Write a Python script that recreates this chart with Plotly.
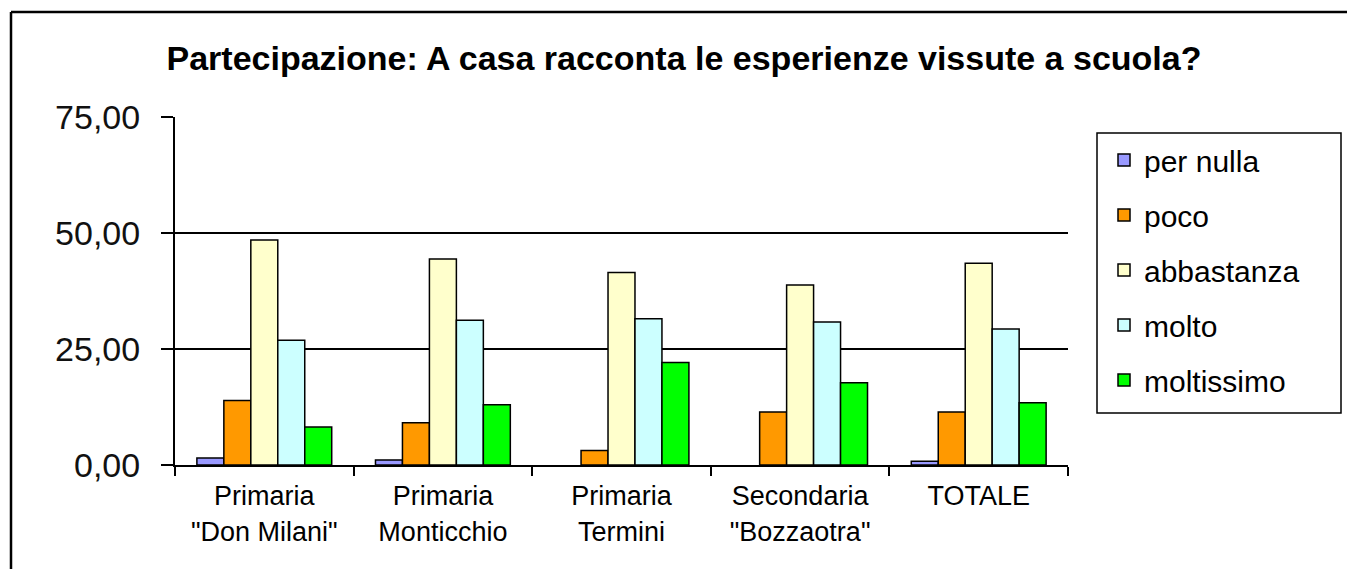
import plotly.graph_objects as go

categories = ['Primaria<br>"Don Milani"', 'Primaria<br>Monticchio', 'Primaria<br>Termini',
              'Secondaria<br>"Bozzaotra"', 'TOTALE']
series_names = ["per nulla", "poco", "abbastanza", "molto", "moltissimo"]
per_nulla = [1.5, 1.1, 0.0, 0.0, 0.8]
poco = [13.9, 9.1, 3.1, 11.4, 11.4]
abbastanza = [48.5, 44.4, 41.5, 38.8, 43.5]
molto = [26.9, 31.2, 31.5, 30.8, 29.3]
moltissimo = [8.2, 13.0, 22.1, 17.7, 13.4]
colors = ["#9999FF", "#FF9900", "#FFFFCC", "#CCFFFF", "#00FF00"]

W, H = 1347, 569
L, R, T, B = 175, 1068, 117, 465

fig = go.Figure()
for name, vals, col in zip(series_names, [per_nulla, poco, abbastanza, molto, moltissimo], colors):
    lw = [1.5 if v > 0 else 0 for v in vals]
    fig.add_trace(go.Bar(x=categories, y=vals, name=name, legendgroup=name,
                         marker=dict(color=col, line=dict(color="black", width=lw))))

def px(x):
    return (x - L) / (R - L)

def py(y):
    return (B - y) / (B - T)

fig.update_layout(
    width=W, height=H,
    margin=dict(l=L, r=W - R, t=T, b=H - B, pad=0),
    paper_bgcolor="white", plot_bgcolor="white",
    separators=",.",
    font=dict(family="Liberation Sans, Arial, sans-serif", color="black"),
    title=dict(text="<b>Partecipazione: A casa racconta le esperienze vissute a scuola?</b>",
               x=684 / W, xref="container", xanchor="center",
               y=1 - 58 / H, yref="container", yanchor="middle",
               font=dict(size=34, color="black")),
    barmode="group", bargap=0.245, bargroupgap=0,
    showlegend=True,
    legend=dict(x=px(1104), y=py(134), xanchor="left", yanchor="top",
                borderwidth=0, bgcolor="rgba(0,0,0,0)",
                font=dict(size=30, color="black"), tracegroupgap=13,
                traceorder="grouped", itemwidth=30),
    xaxis=dict(showline=True, linecolor="black", linewidth=2, ticks="outside",
               tickson="boundaries", ticklen=9, tickcolor="black", tickwidth=2,
               showgrid=False, tickfont=dict(size=27, color="black"),
               ticklabelstandoff=6),
    yaxis=dict(range=[0, 75], dtick=25, tick0=0, tickformat=".2f",
               showline=True, linecolor="black", linewidth=2,
               ticks="outside", ticklen=12, tickcolor="black", tickwidth=2,
               showgrid=True, gridcolor="black", gridwidth=1.5, zeroline=False,
               tickfont=dict(size=34, color="#111"), ticklabelstandoff=14),
    shapes=[
        dict(type="line", xref="paper", yref="paper", x0=px(11), x1=px(11),
             y0=py(575), y1=py(12), line=dict(color="black", width=2.5)),
        dict(type="line", xref="paper", yref="paper", x0=px(11), x1=px(1350),
             y0=py(12), y1=py(12), line=dict(color="black", width=2.5)),
        dict(type="rect", xref="paper", yref="paper", x0=px(1097), x1=px(1341),
             y0=py(413), y1=py(133), line=dict(color="black", width=1.5),
             fillcolor="rgba(0,0,0,0)"),
    ],
)

fig.write_html("out.html", config={"displayModeBar": False},
               post_script="document.body.style.margin='0';document.body.style.overflow='hidden';")
